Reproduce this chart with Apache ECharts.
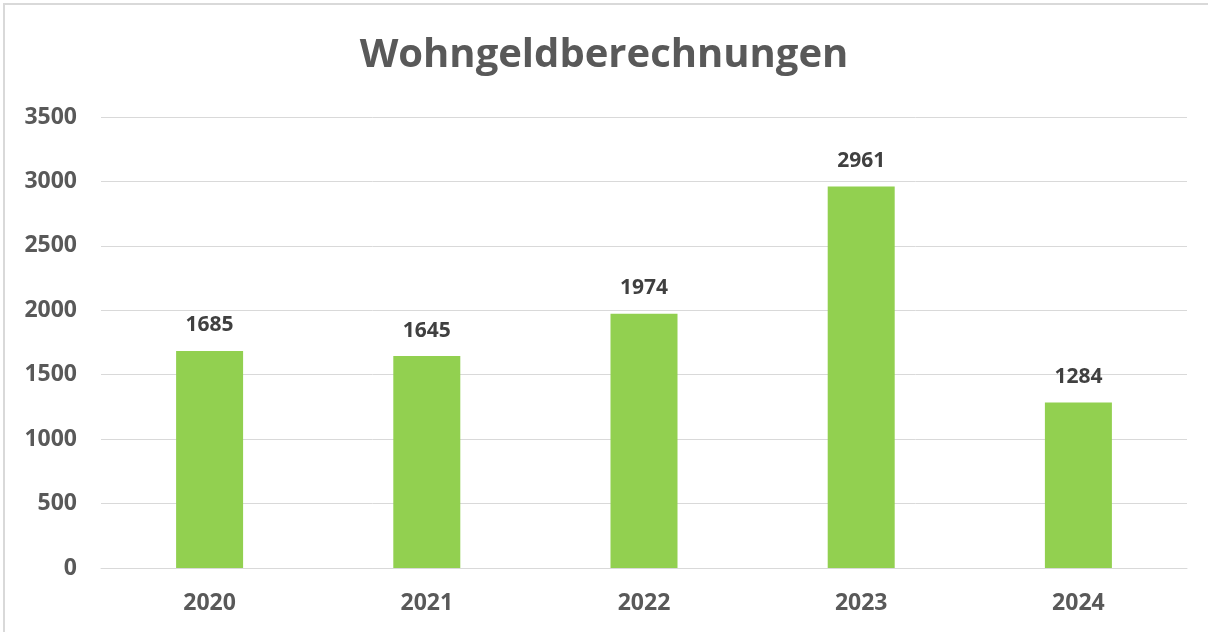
<!DOCTYPE html>
<html>
<head>
<meta charset="utf-8">
<script src="https://cdn.jsdelivr.net/npm/echarts@6/dist/echarts.min.js"></script>
<style>
html,body{margin:0;padding:0;background:#fff;}
#chart{width:1208px;height:632px;}
</style>
</head>
<body>
<div id="chart"></div>
<script>
const titleText = 'Wohngeldberechnungen';
const categories = ['2020', '2021', '2022', '2023', '2024'];
const values = [1685, 1645, 1974, 2961, 1284];
const yTicks = [0, 500, 1000, 1500, 2000, 2500, 3000, 3500];

const chart = echarts.init(document.getElementById('chart'));
const font = '"Open Sans", "Noto Sans", sans-serif';
chart.setOption({
  animation: false,
  backgroundColor: '#ffffff',
  graphic: [{
    type: 'rect',
    shape: {x: 4, y: 4, width: 1400, height: 800},
    style: {fill: 'none', stroke: '#d9d9d9', lineWidth: 2},
    silent: true
  }],
  title: {
    text: titleText,
    left: 'center',
    top: 31,
    textStyle: {fontFamily: font, fontWeight: 'bold', fontSize: 40, color: '#595959'}
  },
  grid: {left: 101, right: 21, top: 117, bottom: 64, containLabel: false},
  xAxis: {
    type: 'category',
    data: categories,
    axisLine: {lineStyle: {color: '#d9d9d9', width: 1}},
    axisTick: {show: false},
    axisLabel: {fontFamily: font, fontWeight: 'bold', fontSize: 23, color: '#595959', margin: 24}
  },
  yAxis: {
    type: 'value',
    min: yTicks[0],
    max: yTicks[yTicks.length - 1],
    interval: yTicks[1] - yTicks[0],
    axisLine: {show: false},
    axisTick: {show: false},
    splitLine: {lineStyle: {color: '#d9d9d9', width: 1}},
    axisLabel: {
      fontFamily: font, fontWeight: 'bold', fontSize: 23, color: '#595959', margin: 24,
      formatter: function (v) { return String(v); }
    }
  },
  series: [{
    type: 'bar',
    data: values,
    barWidth: 67,
    itemStyle: {color: '#92d050'},
    label: {
      show: true,
      position: 'top',
      distance: 15,
      fontFamily: font,
      fontWeight: 'bold',
      fontSize: 21,
      color: '#404040'
    }
  }]
});
</script>
</body>
</html>
